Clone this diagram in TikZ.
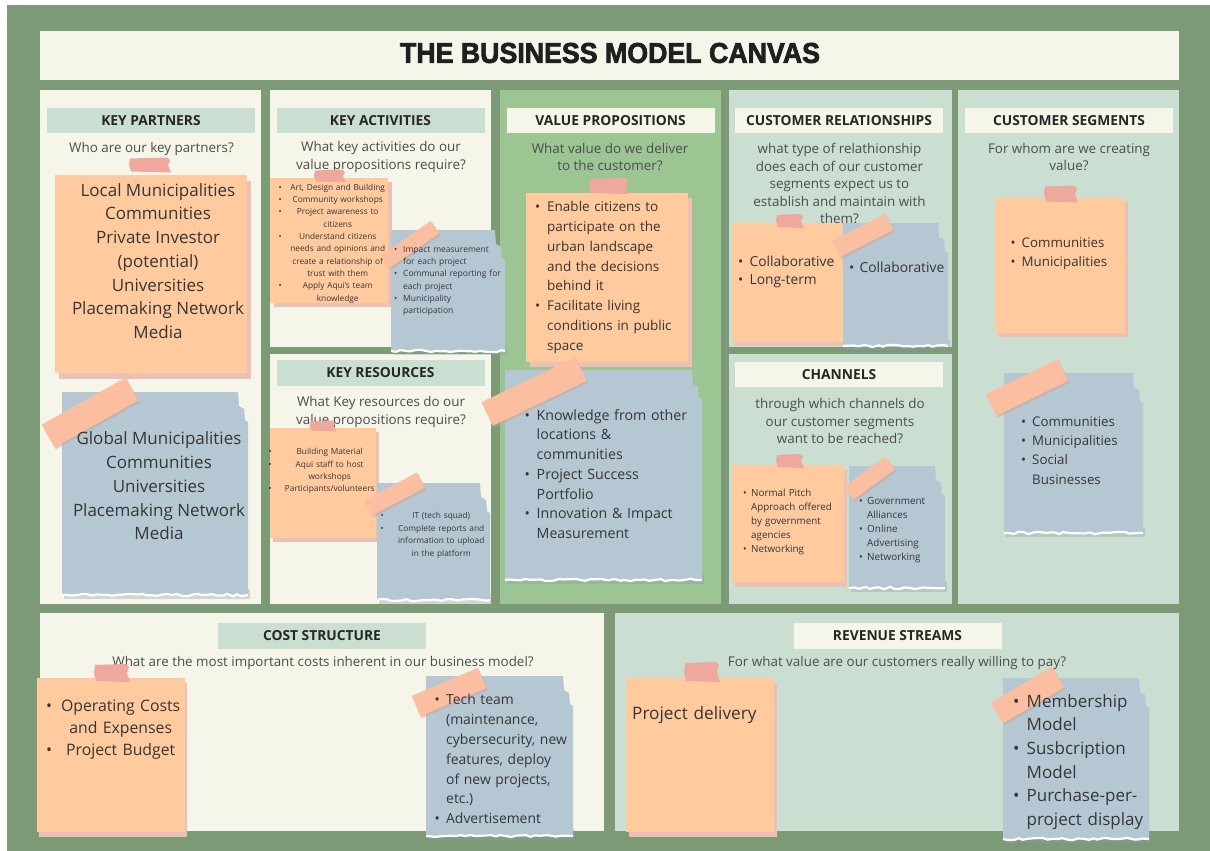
\documentclass[tikz,border=0pt]{standalone}
\usepackage{fontspec}
\setmainfont{Open Sans}
\newfontfamily\titlefont{Liberation Sans}[BoldFeatures={FakeBold=2.5}]
\usetikzlibrary{decorations.pathmorphing}
\definecolor{bggreen}{HTML}{7D9A77}
\definecolor{cream}{HTML}{F5F5E9}
\definecolor{sage}{HTML}{CBDED2}
\definecolor{vpgreen}{HTML}{9DC593}
\definecolor{peach}{HTML}{FFCA9E}
\definecolor{peachsh}{HTML}{EDC0B6}
\definecolor{bluenote}{HTML}{B5C7D3}
\definecolor{bluesh}{HTML}{8E9EA8}
\definecolor{tapepink}{HTML}{EFA89E}
\definecolor{tapepeach}{HTML}{FCBEA1}
\definecolor{tapesh}{HTML}{C9A595}
\definecolor{txt}{HTML}{363636}
\definecolor{qtxt}{HTML}{4C4C4C}
\newcommand\onote[6]{%
  \fill[peachsh] (#1+#5,#2+#6) rectangle (#3+#5,#4+#6);
  \fill[peach] (#1,#2) rectangle (#3,#4);}
\newcommand\bnote[4]{%
  \fill[bluesh,opacity=.35] (#1+2,#4-6) rectangle (#3+2,#4+4);
  \fill[bluenote] (#1,#2) -- (#3-10,#2) -- (#3-9,#2+14) -- (#3-4,#2+17) -- (#3-3,#2+28) -- (#3,#2+30) -- (#3,#4) -- (#1,#4) -- cycle;
  \draw[white,line width=2.2pt,tear] (#1,#4) -- (#3,#4);}
\newcommand\stape[4]{%
  \fill[tapepink] (#1-#3/2,#2-#4/2+1) -- (#1+#3/2-3,#2-#4/2) -- (#1+#3/2,#2-#4/2+3) -- (#1+#3/2-2,#2) -- (#1+#3/2+1,#2+#4/2) -- (#1-#3/2+1,#2+#4/2-1) -- (#1-#3/2-1,#2) -- cycle;}
\newcommand\dtape[5]{%
  \draw[tapesh,line width=#5pt,opacity=.5] (#1+1.5,#2+2) -- (#3+1.5,#4+2);
  \draw[tapepeach,line width=#5pt] (#1,#2) -- (#3,#4);}
\def\bw{10pt}
\newcommand\bi[1]{\makebox[\bw][l]{\textbullet}#1}
\newcommand\ct[1]{\hspace*{\bw}#1}
\newcommand\cb[2]{\makebox[#1]{\rlap{\textbullet}\hfill#2\hfill}}
\newcommand\cc[2]{\makebox[#1]{\hfill#2\hfill}}
\tikzset{
  tear/.style={decorate,decoration={random steps,segment length=5pt,amplitude=1.2pt}},
  hdr/.style={font=\fontsize{13.8}{15}\selectfont\bfseries, text=black!85, minimum width=208pt, minimum height=25.5pt, inner sep=0pt},
  qq/.style={font=\fontsize{13.4}{17.5}\selectfont, text=qtxt, align=center, inner sep=0pt},
  nt/.style={text=txt, inner sep=0pt, align=left, text width=170pt, anchor=west},
  ntc/.style={text=txt, inner sep=0pt, align=center}
}
\begin{document}
\begin{tikzpicture}[x=1pt,y=-1pt]
\pgfmathsetseed{7}
\useasboundingbox (0,0) rectangle (1210,851);
\fill[white] (0,0) rectangle (1210,851);
\fill[bggreen] (7,5) rectangle (1210,851);
% title
\fill[cream] (40,31) rectangle (1179,80);
\node[inner sep=0pt, text=black!88] (title) at (610,53) {\resizebox{420pt}{20pt}{\titlefont\bfseries THE BUSINESS MODEL CANVAS}};
% panels
\fill[cream] (40,90) rectangle (261,604);
\fill[cream] (270,90) rectangle (491,347);
\fill[cream] (270,354) rectangle (491,604);
\fill[vpgreen] (500,90) rectangle (721,604);
\fill[sage] (729,90) rectangle (952,347);
\fill[sage] (729,354) rectangle (952,604);
\fill[sage] (958,90) rectangle (1179,604);
\fill[cream] (40,613) rectangle (604,831);
\fill[sage] (615,613) rectangle (1179,831);
% headers
\node[hdr, fill=sage] (hkp) at (151,120.5) {KEY PARTNERS};
\node[hdr, fill=sage] (hka) at (380.5,120.5) {KEY ACTIVITIES};
\node[hdr, fill=sage] (hkr) at (380.5,373) {KEY RESOURCES};
\node[hdr, fill=cream] (hvp) at (610.5,120.5) {VALUE PROPOSITIONS};
\node[hdr, fill=cream] (hcr) at (839,120.5) {CUSTOMER RELATIONSHIPS};
\node[hdr, fill=cream] (hch) at (839,374.5) {CHANNELS};
\node[hdr, fill=cream] (hcs) at (1069,120.5) {CUSTOMER SEGMENTS};
\node[hdr, fill=sage] (hcost) at (322,636) {COST STRUCTURE};
\node[hdr, fill=cream] (hrev) at (897.5,636) {REVENUE STREAMS};
% questions
\node[qq] (qkp) at (151.5,149) {Who are our key partners?};
\node[qq] (qka) at (381,157) {What key activities do our\\value propositions require?};
\node[qq] (qkr) at (381,412) {What Key resources do our\\value propositions require?};
\node[qq] (qvp) at (610,157) {What value do we deliver\\to the customer?};
\node[qq] (qcr) at (839.5,183.5) {what type of relathionship\\does each of our customer\\segments expect us to\\establish and maintain with\\them?};
\node[qq] (qch) at (840,421.5) {through which channels do\\our customer segments\\want to be reached?};
\node[qq] (qcs) at (1069,157) {For whom are we creating\\value?};
\node[qq] (qcost) at (323,663) {What are the most important costs inherent in our business model?};
\node[qq] (qrev) at (897,663) {For what value are our customers really willing to pay?};

% ---- Key partners
\onote{55}{175}{247}{373}{4}{6}
\stape{150}{165}{40}{15}
\node[ntc, font=\fontsize{17}{23.7}\selectfont] (kp1) at (158,261) {Local Municipalities\\Communities\\Private Investor\\(potential)\\Universities\\Placemaking Network\\Media};
\bnote{62}{392}{248}{595}
\dtape{48}{436}{132}{389}{26}
\node[ntc, font=\fontsize{17}{23.75}\selectfont] (kp2) at (159,486) {Global Municipalities\\Communities\\Universities\\Placemaking Network\\Media};

% ---- Key activities
\onote{270}{178}{388}{303}{4}{4}
\stape{330}{176}{30}{13}
\node[nt, font=\fontsize{8.3}{12.33}\selectfont, text width=118pt] (ka1) at (278.5,243.5) {\cb{118pt}{Art, Design and Building}\\\cb{118pt}{Community workshops}\\\cb{118pt}{Project awareness to}\\\cc{118pt}{citizens}\\\cb{118pt}{Understand citizens}\\\cc{118pt}{needs and opinions and}\\\cc{118pt}{create a relationship of}\\\cc{118pt}{trust with them}\\\cb{118pt}{Apply Aqui's team}\\\cc{118pt}{knowledge}};
\bnote{391}{230}{505}{351}
\dtape{385}{262}{435}{227}{15}
\def\bw{9pt}
\node[nt, font=\fontsize{8.5}{12.3}\selectfont] (ka2) at (394,281) {\bi{Impact measurement}\\\ct{for each project}\\\bi{Communal reporting for}\\\ct{each project}\\\bi{Municipality}\\\ct{participation}};

% ---- Key resources
\onote{270}{428}{376}{538}{3}{4}
\stape{323}{426}{25}{11}
\node[nt, font=\fontsize{8.3}{12.2}\selectfont, text width=122pt] (kr1) at (268.5,471) {\cb{122pt}{Building Material}\\\cb{122pt}{Aqui staff to host}\\\cc{122pt}{workshops}\\\cb{122pt}{Participants/volunteers}};
\bnote{377}{483}{490}{600}
\dtape{368}{508}{421}{480}{17}
\node[nt, font=\fontsize{8.3}{12.4}\selectfont, text width=121pt] (kr2) at (380.5,535.3) {\cb{121pt}{IT (tech squad)}\\\cb{121pt}{Complete reports and}\\\cc{121pt}{information to upload}\\\cc{121pt}{in the platform}};

% ---- Value propositions
\onote{526}{193}{688}{362}{4}{5}
\stape{609}{186}{38}{16}
\def\bw{12pt}
\node[nt, font=\fontsize{13.5}{19.86}\selectfont] (vp1) at (535,277.5) {\bi{Enable citizens to}\\\ct{participate on the}\\\ct{urban landscape}\\\ct{and the decisions}\\\ct{behind it}\\\bi{Facilitate living}\\\ct{conditions in public}\\\ct{space}};
\bnote{505}{370}{702}{580}
\dtape{487}{414}{581}{369}{26}
\node[nt, font=\fontsize{14.2}{19.7}\selectfont] (vp2) at (524.5,474) {\bi{Knowledge from other}\\\ct{locations \&}\\\ct{communities}\\\bi{Project Success}\\\ct{Portfolio}\\\bi{Innovation \& Impact}\\\ct{Measurement}};

% ---- Customer relationships
\onote{732}{223}{843}{342}{3}{4}
\stape{790}{221}{26}{14}
\bnote{843}{223}{948}{346}
\dtape{836}{249}{889}{222}{18}
\def\bw{11.5pt}
\node[nt, font=\fontsize{13.8}{18.3}\selectfont] (cr1) at (738,272) {\bi{Collaborative}\\\bi{Long-term}};
\def\bw{10.5pt}
\node[nt, font=\fontsize{13.8}{18.3}\selectfont] (cr2) at (849,267.7) {\bi{Collaborative}};

% ---- Channels
\onote{732}{465}{844}{582}{3}{5}
\stape{790}{461}{26}{14}
\def\bw{8pt}
\node[nt, font=\fontsize{9.8}{14}\selectfont] (ch1) at (743,522) {\bi{Normal Pitch}\\\ct{Approach offered}\\\ct{by government}\\\ct{agencies}\\\bi{Networking}};
\bnote{849}{466}{945}{588}
\dtape{849}{493}{890}{463}{16}
\node[nt, font=\fontsize{9.9}{14.15}\selectfont] (ch2) at (859,530) {\bi{Government}\\\ct{Alliances}\\\bi{Online}\\\ct{Advertising}\\\bi{Networking}};

% ---- Customer segments
\onote{995}{198}{1125}{333}{3}{4}
\stape{1061}{194}{32}{17}
\def\bw{11pt}
\node[nt, font=\fontsize{13.3}{19}\selectfont] (cs1) at (1010.5,254) {\bi{Communities}\\\bi{Municipalities}};
\bnote{1004}{373}{1143}{533}
\dtape{991}{405}{1063}{370}{24}
\node[nt, font=\fontsize{13.3}{19.2}\selectfont] (cs2) at (1021,450.5) {\bi{Communities}\\\bi{Municipalities}\\\bi{Social}\\\ct{Businesses}};

% ---- Cost structure
\onote{37}{678}{185}{832}{2}{5}
\stape{112}{673}{34}{18}
\node[nt, font=\fontsize{15.8}{22}\selectfont, text width=150pt] (co1) at (46,730) {\cb{149pt}{Operating Costs}\\\cc{149pt}{and Expenses}\\\cb{149pt}{Project Budget}};
\bnote{426}{676}{573}{836}
\dtape{416}{706}{482}{678}{22}
\def\bw{11.5pt}
\node[nt, font=\fontsize{13.9}{19.8}\selectfont] (co2) at (434.5,759) {\bi{Tech team}\\\ct{(maintenance,}\\\ct{cybersecurity, new}\\\ct{features, deploy}\\\ct{of new projects,}\\\ct{etc.)}\\\bi{Advertisement}};

% ---- Revenue streams
\onote{626}{678}{774}{832}{3}{5}
\stape{702}{672}{34}{20}
\node[nt, font=\fontsize{17.2}{20}\selectfont] (rv1) at (632,715) {Project delivery};
\bnote{1003}{678}{1149}{839}
\dtape{997}{713}{1058}{677}{24}
\def\bw{13.5pt}
\node[nt, font=\fontsize{17}{23.7}\selectfont] (rv2) at (1013,762) {\bi{Membership}\\\ct{Model}\\\bi{Susbcription}\\\ct{Model}\\\bi{Purchase-per-}\\\ct{project display}};
\end{tikzpicture}
\end{document}
